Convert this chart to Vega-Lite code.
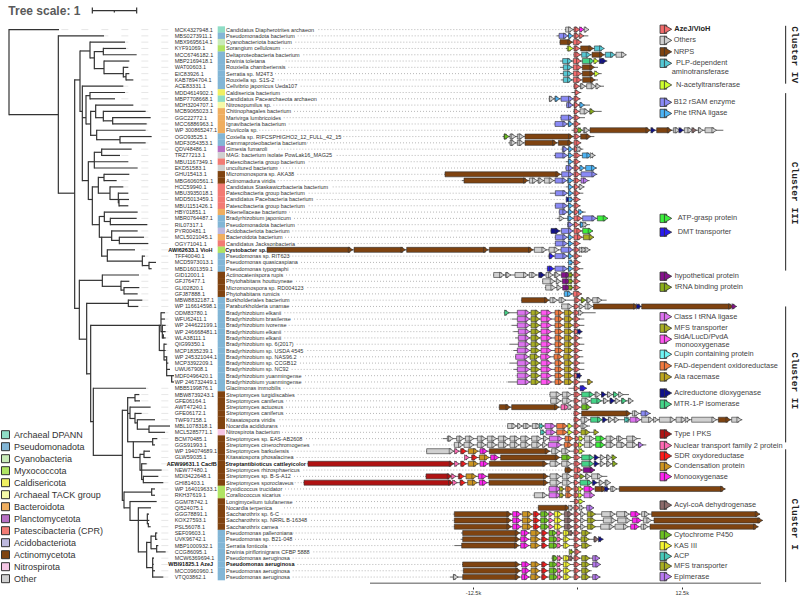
{"width":800,"height":597,"padding":0,"autosize":{"type":"none"},"background":"white","config":{"view":{"stroke":null}},
"datasets":{
"taxa":[
{"r":0,"id":"MCK4327948.1","org":"Candidatus Diapherotrites archaeon","tax":"Archaeal DPANN","n":27,"tip":177,"d":505},
{"r":1,"id":"MBS0273911.1","org":"Pseudomonadota bacterium","tax":"Pseudomonadota","n":175,"tip":312,"d":505},
{"r":2,"id":"MBX9695614.1","org":"Cyanobacteriota bacterium","tax":"Cyanobacteria","n":270,"tip":375,"d":505},
{"r":3,"id":"KYF91069.1","org":"Sorangium cellulosum","tax":"Myxococcota","n":310,"tip":378,"d":505},
{"r":4,"id":"MCC6746182.1","org":"Deltaproteobacteria bacterium","tax":"Pseudomonadota","n":310,"tip":410,"d":505},
{"r":5,"id":"MBP2169418.1","org":"Erwinia toletana","tax":"Pseudomonadota","n":312,"tip":388,"d":505},
{"r":6,"id":"WAT00603.1","org":"Rouxiella chamberiensis","tax":"Pseudomonadota","n":370,"tip":385,"d":505},
{"r":7,"id":"EIC83926.1","org":"Serratia sp. M24T3","tax":"Pseudomonadota","n":378,"tip":388,"d":505},
{"r":8,"id":"KAB7894704.1","org":"Rouxiella sp. S1S-2","tax":"Pseudomonadota","n":378,"tip":400,"d":505},
{"r":9,"id":"ACE83331.1","org":"Cellvibrio japonicus Ueda107","tax":"Pseudomonadota","n":247,"tip":370,"d":505},
{"r":10,"id":"MDD4614902.1","org":"Caldisericia bacterium","tax":"Caldisericota","n":270,"tip":375,"d":505},
{"r":11,"id":"MBP7708668.1","org":"Candidatus Pacearchaeota archaeon","tax":"Archaeal DPANN","n":270,"tip":345,"d":505},
{"r":12,"id":"MDH3204707.1","org":"Nitrosopumilus sp.","tax":"Archaeal TACK group","n":287,"tip":400,"d":505},
{"r":13,"id":"MCB9065023.1","org":"Chitinophagales bacterium","tax":"Bacteroidota","n":310,"tip":437,"d":505},
{"r":14,"id":"GGC22772.1","org":"Marivirga lumbricoides","tax":"Bacteroidota","n":338,"tip":452,"d":505},
{"r":15,"id":"MCC6886963.1","org":"Ignavibacteria bacterium","tax":"Bacteroidota","n":338,"tip":440,"d":505},
{"r":16,"id":"WP 300865247.1","org":"Fluviicola sp.","tax":"Bacteroidota","n":290,"tip":437,"d":505},
{"r":17,"id":"OGO93525.1","org":"Coxiella sp. RIFCSPHIGHO2_12_FULL_42_15","tax":"Pseudomonadota","n":360,"tip":455,"d":505},
{"r":18,"id":"MDF3054353.1","org":"Gammaproteobacteria bacterium","tax":"Pseudomonadota","n":360,"tip":437,"d":505},
{"r":19,"id":"QDV48486.1","org":"Gimesia fumaroli","tax":"Planctomycetota","n":305,"tip":395,"d":505},
{"r":20,"id":"TRZ77213.1","org":"MAG: bacterium isolate PowLak16_MAG25","tax":"Other","n":305,"tip":360,"d":505},
{"r":21,"id":"MBU1167349.1","org":"Patescibacteria group bacterium","tax":"Patescibacteria (CPR)","n":283,"tip":385,"d":505},
{"r":22,"id":"EKD51583.1","org":"uncultured bacterium","tax":"Other","n":283,"tip":413,"d":505},
{"r":23,"id":"GHU15413.1","org":"Micromonospora sp. AKA38","tax":"Actinomycetota","n":312,"tip":388,"d":505},
{"r":24,"id":"MBG6060561.1","org":"Actinomadura viridis","tax":"Actinomycetota","n":312,"tip":350,"d":505},
{"r":25,"id":"HCC59940.1","org":"Candidatus Staskawiczbacteria bacterium","tax":"Patescibacteria (CPR)","n":330,"tip":370,"d":505},
{"r":26,"id":"MBU3935018.1","org":"Patescibacteria group bacterium","tax":"Patescibacteria (CPR)","n":355,"tip":385,"d":505},
{"r":27,"id":"MDD5013459.1","org":"Candidatus Pacebacteria bacterium","tax":"Patescibacteria (CPR)","n":357,"tip":387,"d":505},
{"r":28,"id":"MBU1151426.1","org":"Patescibacteria group bacterium","tax":"Patescibacteria (CPR)","n":357,"tip":385,"d":505},
{"r":29,"id":"HBY01851.1","org":"Rikenellaceae bacterium","tax":"Bacteroidota","n":313,"tip":413,"d":505},
{"r":30,"id":"MBR0764487.1","org":"Bradyrhizobium japonicum","tax":"Pseudomonadota","n":331,"tip":410,"d":505},
{"r":31,"id":"RIL07317.1","org":"Pseudomonadota bacterium","tax":"Pseudomonadota","n":331,"tip":442,"d":505},
{"r":32,"id":"PYR00481.1","org":"Acidobacteriota bacterium","tax":"Acidobacteriota","n":335,"tip":413,"d":505},
{"r":33,"id":"MCL5021045.1","org":"Bacteroidota bacterium","tax":"Bacteroidota","n":358,"tip":432,"d":505},
{"r":34,"id":"OGY71041.1","org":"Candidatus Jacksonbacteria","tax":"Patescibacteria (CPR)","n":358,"tip":445,"d":505},
{"r":35,"id":"","org":"","tax":"Myxococcota","n":322,"tip":405,"d":505},
{"r":36,"id":"TFF40040.1","org":"Pseudomonas sp. RIT623","tax":"Pseudomonadota","n":427,"tip":435,"d":505},
{"r":37,"id":"MCD5973013.1","org":"Pseudomonas quasicaspiana","tax":"Pseudomonadota","n":447,"tip":468,"d":505},
{"r":38,"id":"MBD1601359.1","org":"Pseudomonas typographi","tax":"Pseudomonadota","n":447,"tip":455,"d":505},
{"r":39,"id":"GID12001.1","org":"Actinocatenispora rupis","tax":"Actinomycetota","n":307,"tip":417,"d":505},
{"r":40,"id":"GFJ76477.1","org":"Phytohabitans houttuyneae","tax":"Actinomycetota","n":363,"tip":388,"d":505},
{"r":41,"id":"GLI02820.1","org":"Micromonospora sp. RD004123","tax":"Actinomycetota","n":372,"tip":418,"d":505},
{"r":42,"id":"GFJ87888.1","org":"Phytohabitans rumicis","tax":"Actinomycetota","n":372,"tip":413,"d":505},
{"r":43,"id":"MBW8832187.1","org":"Burkholderiales bacterium","tax":"Pseudomonadota","n":385,"tip":427,"d":505},
{"r":44,"id":"WP 116614598.1","org":"Paraburkholderia unamae","tax":"Pseudomonadota","n":385,"tip":415,"d":505},
{"r":45,"id":"ODM83780.1","org":"Bradyrhizobium elkanii","tax":"Pseudomonadota","n":483,"tip":495,"d":505},
{"r":46,"id":"WFU62411.1","org":"Bradyrhizobium brasilense","tax":"Pseudomonadota","n":483,"tip":495,"d":505},
{"r":47,"id":"WP 244622199.1","org":"Bradyrhizobium ivorense","tax":"Pseudomonadota","n":487,"tip":497,"d":505},
{"r":48,"id":"WP 246668481.1","org":"Bradyrhizobium elkanii","tax":"Pseudomonadota","n":487,"tip":497,"d":505},
{"r":49,"id":"WLA38111.1","org":"Bradyrhizobium elkanii","tax":"Pseudomonadota","n":490,"tip":497,"d":505},
{"r":50,"id":"QIG99350.1","org":"Bradyrhizobium sp. 6(2017)","tax":"Pseudomonadota","n":492,"tip":500,"d":505},
{"r":51,"id":"MCP1835239.1","org":"Bradyrhizobium sp. USDA 4545","tax":"Pseudomonadota","n":492,"tip":497,"d":505},
{"r":52,"id":"WP 245321044.1","org":"Bradyrhizobium sp. NAS96.2","tax":"Pseudomonadota","n":492,"tip":500,"d":505},
{"r":53,"id":"MCP3392209.1","org":"Bradyrhizobium sp. CCGB12","tax":"Pseudomonadota","n":500,"tip":505,"d":505},
{"r":54,"id":"UWU67908.1","org":"Bradyrhizobium sp. NC92","tax":"Pseudomonadota","n":500,"tip":510,"d":510},
{"r":55,"id":"MDF0496420.1","org":"Bradyrhizobium yuanmingense","tax":"Pseudomonadota","n":515,"tip":522,"d":522},
{"r":56,"id":"WP 246732449.1","org":"Bradyrhizobium yuanmingense","tax":"Pseudomonadota","n":515,"tip":522,"d":522},
{"r":57,"id":"MBB5199876.1","org":"Glaciimonas immobilis","tax":"Pseudomonadota","n":280,"tip":438,"d":505},
{"r":58,"id":"MBW8739243.1","org":"Streptomyces turgidiscabies","tax":"Actinomycetota","n":405,"tip":418,"d":505},
{"r":59,"id":"GFE06164.1","org":"Streptomyces caniferus","tax":"Actinomycetota","n":405,"tip":420,"d":505},
{"r":60,"id":"AWT47240.1","org":"Streptomyces actuosus","tax":"Actinomycetota","n":390,"tip":452,"d":505},
{"r":61,"id":"GFE06172.1","org":"Streptomyces caniferus","tax":"Actinomycetota","n":405,"tip":425,"d":505},
{"r":62,"id":"TWF97158.1","org":"Kitasatospora viridis","tax":"Actinomycetota","n":412,"tip":465,"d":505},
{"r":63,"id":"MBL1078318.1","org":"Nocardia acididurans","tax":"Actinomycetota","n":447,"tip":510,"d":510},
{"r":64,"id":"MCL5285771.1","org":"Nitrospirota bacterium","tax":"Nitrospirota","n":447,"tip":495,"d":505},
{"r":65,"id":"BCM70485.1","org":"Streptomyces sp. EAS-AB2608","tax":"Actinomycetota","n":458,"tip":472,"d":505},
{"r":66,"id":"GGS91993.1","org":"Streptomyces cinerochromogenes","tax":"Actinomycetota","n":458,"tip":465,"d":505},
{"r":67,"id":"WP 194074689.1","org":"Streptomyces barkulensis","tax":"Actinomycetota","n":432,"tip":450,"d":505},
{"r":68,"id":"GLW59035.1","org":"Kitasatospora phosalacinea","tax":"Actinomycetota","n":432,"tip":452,"d":505},
{"r":69,"id":"","org":"","tax":"Actinomycetota","n":425,"tip":440,"d":505},
{"r":70,"id":"NEW77480.1","org":"Streptomyces rhizosphaericus","tax":"Actinomycetota","n":425,"tip":485,"d":505},
{"r":71,"id":"MDI3422648.1","org":"Streptomyces sp. B-S-A12","tax":"Actinomycetota","n":430,"tip":475,"d":505},
{"r":72,"id":"GHI81403.1","org":"Streptomyces sporoclaveus","tax":"Actinomycetota","n":430,"tip":490,"d":505},
{"r":73,"id":"WP 164019633.1","org":"Pyxidicoccus trucidator","tax":"Myxococcota","n":455,"tip":465,"d":505},
{"r":74,"id":"RKH37619.1","org":"Corallococcus sicarius","tax":"Myxococcota","n":455,"tip":465,"d":505},
{"r":75,"id":"GGM78742.1","org":"Longimycelium tulufanense","tax":"Actinomycetota","n":390,"tip":470,"d":505},
{"r":76,"id":"QI524075.1","org":"Nocardia terpenica","tax":"Actinomycetota","n":415,"tip":453,"d":505},
{"r":77,"id":"GGG78891.1","org":"Saccharothrix sp. 6-C","tax":"Actinomycetota","n":442,"tip":447,"d":505},
{"r":78,"id":"KOX27593.1","org":"Saccharothrix sp. NRRL B-16348","tax":"Actinomycetota","n":442,"tip":448,"d":505},
{"r":79,"id":"PSL56078.1","org":"Saccharothrix carnea","tax":"Actinomycetota","n":445,"tip":452,"d":505},
{"r":80,"id":"SEF09603.1","org":"Pseudomonas palleroniana","tax":"Pseudomonadota","n":467,"tip":472,"d":505},
{"r":81,"id":"UVK96742.1","org":"Pseudomonas sp. B21-048","tax":"Pseudomonadota","n":467,"tip":472,"d":505},
{"r":82,"id":"MBP1000932.1","org":"Serratia fonticola","tax":"Pseudomonadota","n":470,"tip":475,"d":505},
{"r":83,"id":"CCG86095.1","org":"Erwinia piriflorinigrans CFBP 5888","tax":"Pseudomonadota","n":470,"tip":497,"d":505},
{"r":84,"id":"MCW6369694.1","org":"Pseudomonas aeruginosa","tax":"Pseudomonadota","n":458,"tip":462,"d":505},
{"r":85,"id":"","org":"","tax":"Pseudomonadota","n":458,"tip":461,"d":505},
{"r":86,"id":"MCC0960960.1","org":"Pseudomonas aeruginosa","tax":"Pseudomonadota","n":458,"tip":465,"d":505},
{"r":87,"id":"VTQ03862.1","org":"Pseudomonas aeruginosa","tax":"Pseudomonadota","n":458,"tip":490,"d":505}
],
"bolds":[{"r":35,"id":"AWI62633.1 VioH","org":"Cystobacter sp.","ax":505,"ox":-1056},{"r":69,"id":"AEW99631.1 CacfB","org":"Streptantibioticus cattleyicolor","ax":500,"ox":-1056},{"r":85,"id":"WBI91825.1 AzeJ","org":"Pseudomonas aeruginosa","ax":505,"ox":-1054}],
"hseg":[
{"x":27,"x2":175,"r":13.5},{"x":175,"x2":224,"r":26},{"x":224,"x2":240,"r":8},{"x":240,"x2":270,"r":3.4},{"x":270,"x2":283,"r":4.5},{"x":283,"x2":310,"r":3.5},{"x":283,"x2":312,"r":6.2},{"x":312,"x2":370,"r":7},{"x":370,"x2":378,"r":7.5},{"x":240,"x2":247,"r":13},{"x":247,"x2":258,"r":14},{"x":258,"x2":270,"r":10.5},{"x":258,"x2":272,"r":15},{"x":272,"x2":287,"r":13},{"x":272,"x2":290,"r":16.8},{"x":287,"x2":310,"r":14},{"x":310,"x2":338,"r":14.5},{"x":290,"x2":360,"r":17.5},{"x":247,"x2":265,"r":24},{"x":265,"x2":283,"r":21},{"x":283,"x2":305,"r":19.5},{"x":265,"x2":277,"r":27},{"x":277,"x2":295,"r":25},{"x":295,"x2":312,"r":23.5},{"x":295,"x2":330,"r":26},{"x":330,"x2":355,"r":27},{"x":355,"x2":357,"r":27.5},{"x":277,"x2":298,"r":31},{"x":298,"x2":313,"r":29.7},{"x":313,"x2":331,"r":30.5},{"x":298,"x2":305,"r":33},{"x":305,"x2":335,"r":33},{"x":335,"x2":358,"r":33.5},{"x":305,"x2":322,"r":36},{"x":322,"x2":427,"r":36.8},{"x":427,"x2":447,"r":37.5},
{"x":224,"x2":238,"r":44.3},{"x":238,"x2":307,"r":39.85},{"x":307,"x2":363,"r":40.8},{"x":363,"x2":372,"r":41.4},{"x":238,"x2":260,"r":49.2},{"x":260,"x2":385,"r":43.5},{"x":260,"x2":272,"r":54.7},{"x":272,"x2":478,"r":47},{"x":478,"x2":483,"r":47},{"x":483,"x2":487,"r":48},{"x":487,"x2":490,"r":49},{"x":478,"x2":492,"r":51},{"x":492,"x2":500,"r":52.5},{"x":500,"x2":515,"r":55},
{"x":272,"x2":280,"r":62.3},{"x":280,"x2":367,"r":67.66},{"x":367,"x2":383,"r":60.5},{"x":383,"x2":405,"r":58.5},{"x":383,"x2":390,"r":61},{"x":390,"x2":405,"r":61.8},{"x":405,"x2":412,"r":62.5},{"x":412,"x2":447,"r":63.5},{"x":383,"x2":400,"r":65.5},{"x":400,"x2":458,"r":65.5},{"x":400,"x2":420,"r":68},{"x":420,"x2":432,"r":67.5},{"x":420,"x2":425,"r":70},{"x":425,"x2":430,"r":71.5},
{"x":367,"x2":372,"r":74.8},{"x":372,"x2":455,"r":73.5},{"x":372,"x2":390,"r":76},{"x":390,"x2":415,"r":78},{"x":415,"x2":442,"r":78},{"x":442,"x2":445,"r":78.5},{"x":415,"x2":440,"r":83},{"x":440,"x2":453,"r":81.5},{"x":453,"x2":467,"r":80.5},{"x":453,"x2":470,"r":82.5},{"x":440,"x2":458,"r":85.5},
{"x":277,"x2":410,"r":-3.02}
],
"vseg":[
{"g":1,"x":27,"r":0},{"g":1,"x":27,"r":13.5},{"g":2,"x":175,"r":1},{"g":2,"x":175,"r":26},{"g":3,"x":224,"r":8},{"g":3,"x":224,"r":44.3},{"g":4,"x":240,"r":3.4},{"g":4,"x":240,"r":13},{"g":5,"x":270,"r":2},{"g":5,"x":270,"r":4.5},{"g":6,"x":283,"r":3.5},{"g":6,"x":283,"r":6.2},{"g":7,"x":310,"r":3},{"g":7,"x":310,"r":4},{"g":8,"x":312,"r":5},{"g":8,"x":312,"r":7},{"g":9,"x":370,"r":6},{"g":9,"x":370,"r":7.5},{"g":10,"x":378,"r":7},{"g":10,"x":378,"r":8},{"g":11,"x":247,"r":9},{"g":11,"x":247,"r":24},{"g":12,"x":258,"r":10.5},{"g":12,"x":258,"r":15},{"g":13,"x":270,"r":10},{"g":13,"x":270,"r":11},{"g":14,"x":272,"r":13},{"g":14,"x":272,"r":16.8},{"g":15,"x":287,"r":12},{"g":15,"x":287,"r":14},{"g":16,"x":310,"r":13},{"g":16,"x":310,"r":14.5},{"g":17,"x":338,"r":14},{"g":17,"x":338,"r":15},{"g":18,"x":290,"r":16},{"g":18,"x":290,"r":17.5},{"g":19,"x":360,"r":17},{"g":19,"x":360,"r":18},{"g":20,"x":265,"r":21},{"g":20,"x":265,"r":27},{"g":21,"x":283,"r":19.5},{"g":21,"x":283,"r":22},{"g":22,"x":305,"r":19},{"g":22,"x":305,"r":20},{"g":23,"x":277,"r":25},{"g":23,"x":277,"r":31},{"g":24,"x":295,"r":23.5},{"g":24,"x":295,"r":26},{"g":25,"x":312,"r":23},{"g":25,"x":312,"r":24},{"g":26,"x":330,"r":25},{"g":26,"x":330,"r":27},{"g":27,"x":355,"r":26},{"g":27,"x":355,"r":27.5},{"g":28,"x":357,"r":27},{"g":28,"x":357,"r":28},{"g":29,"x":298,"r":29.7},{"g":29,"x":298,"r":33},{"g":30,"x":313,"r":29},{"g":30,"x":313,"r":30.5},{"g":31,"x":331,"r":30},{"g":31,"x":331,"r":31},{"g":32,"x":305,"r":33},{"g":32,"x":305,"r":36},{"g":33,"x":335,"r":32},{"g":33,"x":335,"r":33.5},{"g":34,"x":358,"r":33},{"g":34,"x":358,"r":34},{"g":35,"x":322,"r":35},{"g":35,"x":322,"r":36.8},{"g":36,"x":427,"r":36},{"g":36,"x":427,"r":37.5},{"g":37,"x":447,"r":37},{"g":37,"x":447,"r":38},
{"g":38,"x":238,"r":39.85},{"g":38,"x":238,"r":49.2},{"g":39,"x":307,"r":39},{"g":39,"x":307,"r":40.8},{"g":40,"x":363,"r":40},{"g":40,"x":363,"r":41.4},{"g":41,"x":372,"r":41},{"g":41,"x":372,"r":42},{"g":42,"x":260,"r":43.5},{"g":42,"x":260,"r":54.7},{"g":43,"x":385,"r":43},{"g":43,"x":385,"r":44},{"g":44,"x":272,"r":47},{"g":44,"x":272,"r":62.3},{"g":45,"x":478,"r":47},{"g":45,"x":478,"r":51},{"g":46,"x":483,"r":45},{"g":46,"x":483,"r":48},{"g":47,"x":487,"r":47},{"g":47,"x":487,"r":49},{"g":48,"x":490,"r":48.5},{"g":48,"x":490,"r":49},{"g":49,"x":492,"r":50},{"g":49,"x":492,"r":52.5},{"g":50,"x":500,"r":52},{"g":50,"x":500,"r":55},{"g":51,"x":515,"r":55},{"g":51,"x":515,"r":56},
{"g":52,"x":280,"r":57},{"g":52,"x":280,"r":67.66},{"g":53,"x":367,"r":60.5},{"g":53,"x":367,"r":74.8},{"g":54,"x":383,"r":58.5},{"g":54,"x":383,"r":65.5},{"g":55,"x":405,"r":58},{"g":55,"x":405,"r":59},{"g":56,"x":390,"r":60},{"g":56,"x":390,"r":61.8},{"g":57,"x":405,"r":61},{"g":57,"x":405,"r":62.5},{"g":58,"x":412,"r":62},{"g":58,"x":412,"r":63.5},{"g":59,"x":447,"r":63},{"g":59,"x":447,"r":64},{"g":60,"x":400,"r":65.5},{"g":60,"x":400,"r":68},{"g":61,"x":458,"r":65},{"g":61,"x":458,"r":66},{"g":62,"x":420,"r":67.5},{"g":62,"x":420,"r":70},{"g":63,"x":432,"r":67},{"g":63,"x":432,"r":68},{"g":64,"x":425,"r":69},{"g":64,"x":425,"r":71.5},{"g":65,"x":430,"r":71},{"g":65,"x":430,"r":72},
{"g":66,"x":372,"r":73.5},{"g":66,"x":372,"r":76},{"g":67,"x":455,"r":73},{"g":67,"x":455,"r":74},{"g":68,"x":390,"r":75},{"g":68,"x":390,"r":78},{"g":69,"x":415,"r":76},{"g":69,"x":415,"r":83},{"g":70,"x":442,"r":77},{"g":70,"x":442,"r":78.5},{"g":71,"x":445,"r":78.5},{"g":71,"x":445,"r":79},{"g":72,"x":440,"r":81.5},{"g":72,"x":440,"r":85.5},{"g":73,"x":453,"r":80.5},{"g":73,"x":453,"r":82.5},{"g":74,"x":467,"r":80},{"g":74,"x":467,"r":81},{"g":75,"x":470,"r":82},{"g":75,"x":470,"r":83},{"g":76,"x":458,"r":84},{"g":76,"x":458,"r":87},
{"g":77,"x":277,"r":-3.4},{"g":77,"x":277,"r":-2.64},{"g":78,"x":410,"r":-3.4},{"g":78,"x":410,"r":-2.64},{"g":79,"x":343,"r":-3.02},{"g":79,"x":343,"r":-2.8}
],
"bb":[
{"r":0,"le":-777,"a":-37,"b":35},{"r":1,"le":-839,"a":-62,"b":33},{"r":2,"le":-846,"a":-54,"b":14},{"r":3,"le":-884,"a":-34,"b":81},{"r":4,"le":-822,"a":-12,"b":147},{"r":5,"le":-875,"a":-52,"b":90},{"r":6,"le":-867,"a":-52,"b":62},{"r":7,"le":-907,"a":-52,"b":73},{"r":8,"le":-899,"a":-49,"b":62},{"r":9,"le":-830,"a":-12,"b":80},{"r":10,"le":-884,"a":-17,"b":12},{"r":11,"le":-769,"a":-86,"b":10},{"r":12,"le":-912,"a":-34,"b":38},{"r":13,"le":-850,"a":-12,"b":73},{"r":14,"le":-881,"a":-51,"b":23},{"r":15,"le":-866,"a":-69,"b":10},{"r":16,"le":-954,"a":-17,"b":438},{"r":17,"le":-720,"a":-224,"b":51},{"r":18,"le":-829,"a":-207,"b":12},{"r":19,"le":-897,"a":-47,"b":18},{"r":20,"le":-722,"a":-70,"b":55},{"r":21,"le":-806,"a":-35,"b":10},{"r":22,"le":-919,"a":-36,"b":59},{"r":23,"le":-840,"a":-399,"b":60},{"r":24,"le":-899,"a":-346,"b":37},{"r":25,"le":-734,"a":-35,"b":22},{"r":26,"le":-806,"a":-82,"b":18},{"r":27,"le":-782,"a":-30,"b":10},{"r":28,"le":-806,"a":-68,"b":10},{"r":29,"le":-892,"a":-56,"b":25},{"r":30,"le":-850,"a":-62,"b":92},{"r":31,"le":-839,"a":-31,"b":38},{"r":32,"le":-855,"a":-81,"b":47},{"r":33,"le":-877,"a":-68,"b":50},{"r":34,"le":-839,"a":-68,"b":10},{"r":35,"le":-931,"a":-931,"b":40},{"r":36,"le":-882,"a":-87,"b":14},{"r":37,"le":-829,"a":-30,"b":10},{"r":38,"le":-854,"a":-92,"b":18},{"r":39,"le":-874,"a":-253,"b":10},{"r":40,"le":-844,"a":-106,"b":10},{"r":41,"le":-810,"a":-97,"b":10},{"r":42,"le":-886,"a":-41,"b":14},{"r":43,"le":-854,"a":-169,"b":88},{"r":44,"le":-856,"a":-49,"b":478},{"r":45,"le":-879,"a":-218,"b":55},{"r":46,"le":-850,"a":-197,"b":21},{"r":47,"le":-866,"a":-197,"b":21},{"r":48,"le":-879,"a":-192,"b":15},{"r":49,"le":-879,"a":-187,"b":15},{"r":50,"le":-842,"a":-204,"b":21},{"r":51,"le":-810,"a":-192,"b":15},{"r":52,"le":-832,"a":-187,"b":18},{"r":53,"le":-832,"a":-204,"b":21},{"r":54,"le":-857,"a":-192,"b":21},{"r":55,"le":-817,"a":-182,"b":13},{"r":56,"le":-817,"a":-209,"b":46},{"r":57,"le":-882,"a":-27,"b":28},{"r":58,"le":-839,"a":-84,"b":155},{"r":59,"le":-874,"a":-82,"b":168},{"r":60,"le":-874,"a":-236,"b":43},{"r":61,"le":-874,"a":-12,"b":221},{"r":62,"le":-894,"a":-12,"b":495},{"r":63,"le":-892,"a":-211,"b":38},{"r":64,"le":-886,"a":-104,"b":63},{"r":65,"le":-814,"a":-404,"b":190},{"r":66,"le":-792,"a":-371,"b":207},{"r":67,"le":-857,"a":-454,"b":22},{"r":68,"le":-842,"a":-334,"b":118},{"r":69,"le":-812,"a":-810,"b":120},{"r":70,"le":-822,"a":-39,"b":53},{"r":71,"le":-850,"a":-456,"b":90},{"r":72,"le":-848,"a":-822,"b":100},{"r":73,"le":-877,"a":-87,"b":444},{"r":74,"le":-882,"a":-131,"b":52},{"r":75,"le":-844,"a":-22,"b":23},{"r":76,"le":-880,"a":-119,"b":50},{"r":77,"le":-887,"a":-371,"b":548},{"r":78,"le":-799,"a":-371,"b":556},{"r":79,"le":-890,"a":-371,"b":543},{"r":80,"le":-872,"a":-349,"b":43},{"r":81,"le":-847,"a":-349,"b":78},{"r":82,"le":-924,"a":-369,"b":43},{"r":83,"le":-792,"a":-17,"b":12},{"r":84,"le":-854,"a":-77,"b":68},{"r":85,"le":-840,"a":-346,"b":70},{"r":86,"le":-854,"a":-344,"b":43},{"r":87,"le":-854,"a":-382,"b":70}
],
"genes":[
{"r":0,"s":-35,"e":-12,"t":"O"},{"r":0,"s":-10,"e":8,"t":"A"},{"r":0,"s":10,"e":21,"t":"V"},{"r":0,"s":23,"e":35,"t":"O"},
{"r":1,"s":-55,"e":-27,"t":"B"},{"r":1,"s":-25,"e":-12,"t":"F"},{"r":1,"s":-10,"e":8,"t":"A"},{"r":1,"s":10,"e":20,"t":"A"},
{"r":2,"s":-52,"e":-14,"t":"N"},{"r":2,"s":-12,"e":13,"t":"A"},
{"r":3,"s":-30,"e":-12,"t":"T"},{"r":3,"s":-10,"e":8,"t":"A"},{"r":3,"s":10,"e":49,"t":"N"},{"r":3,"s":51,"e":81,"t":"P"},
{"r":4,"s":-10,"e":10,"t":"A"},{"r":4,"s":13,"e":41,"t":"P"},{"r":4,"s":44,"e":81,"t":"N"},{"r":4,"s":84,"e":114,"t":"P"},{"r":4,"s":116,"e":147,"t":"O"},
{"r":5,"s":-44,"e":-15,"t":"P"},{"r":5,"s":-12,"e":12,"t":"A"},{"r":5,"s":15,"e":51,"t":"Y"},{"r":5,"s":53,"e":64,"t":"T"},{"r":5,"s":66,"e":88,"t":"I"},
{"r":6,"s":-42,"e":-15,"t":"P"},{"r":6,"s":-12,"e":13,"t":"A"},{"r":6,"s":15,"e":52,"t":"N"},
{"r":7,"s":-42,"e":-15,"t":"P"},{"r":7,"s":-12,"e":13,"t":"A"},{"r":7,"s":15,"e":52,"t":"N"},{"r":7,"s":55,"e":66,"t":"T"},
{"r":8,"s":-42,"e":-15,"t":"P"},{"r":8,"s":-12,"e":13,"t":"A"},{"r":8,"s":16,"e":54,"t":"N"},
{"r":9,"s":-10,"e":7,"t":"A"},{"r":9,"s":9,"e":25,"t":"O"},{"r":9,"s":28,"e":56,"t":"O"},{"r":9,"s":58,"e":70,"t":"O"},
{"r":10,"s":-7,"e":8,"t":"A"},
{"r":11,"s":-84,"e":-69,"t":"O"},{"r":11,"s":-67,"e":-52,"t":"F"},{"r":11,"s":-49,"e":-12,"t":"B"},{"r":11,"s":-10,"e":8,"t":"A"},
{"r":12,"s":-32,"e":-12,"t":"B"},{"r":12,"s":-10,"e":6,"t":"A"},{"r":12,"s":8,"e":22,"t":"F"},
{"r":13,"s":-10,"e":6,"t":"A"},{"r":13,"s":8,"e":35,"t":"O"},{"r":13,"s":38,"e":52,"t":"R"},
{"r":14,"s":-49,"e":-12,"t":"B"},{"r":14,"s":-10,"e":8,"t":"A"},
{"r":15,"s":-67,"e":-29,"t":"B"},{"r":15,"s":-27,"e":-12,"t":"F"},{"r":15,"s":-10,"e":8,"t":"A"},
{"r":16,"s":-10,"e":7,"t":"A"},{"r":16,"s":9,"e":16,"t":"J"},{"r":16,"s":18,"e":36,"t":"O"},{"r":16,"s":38,"e":220,"t":"N"},{"r":16,"s":223,"e":235,"t":"I"},{"r":16,"s":238,"e":284,"t":"N"},{"r":16,"s":288,"e":308,"t":"O"},{"r":16,"s":311,"e":319,"t":"I"},{"r":16,"s":321,"e":346,"t":"O"},{"r":16,"s":348,"e":358,"t":"Q"},{"r":16,"s":363,"e":378,"t":"O"},{"r":16,"s":383,"e":418,"t":"O"},
{"r":17,"s":-220,"e":-204,"t":"J"},{"r":17,"s":-202,"e":-184,"t":"O"},{"r":17,"s":-180,"e":-160,"t":"O"},{"r":17,"s":-157,"e":-12,"t":"N"},{"r":17,"s":-10,"e":8,"t":"A"},{"r":17,"s":10,"e":41,"t":"N"},
{"r":18,"s":-202,"e":-184,"t":"O"},{"r":18,"s":-180,"e":-160,"t":"O"},{"r":18,"s":-157,"e":-60,"t":"N"},{"r":18,"s":-57,"e":-14,"t":"N"},{"r":18,"s":-10,"e":11,"t":"A"},
{"r":19,"s":-45,"e":-28,"t":"B"},{"r":19,"s":-25,"e":-12,"t":"F"},{"r":19,"s":-10,"e":6,"t":"A"},{"r":19,"s":8,"e":13,"t":"O"},
{"r":20,"s":-66,"e":-29,"t":"B"},{"r":20,"s":-27,"e":-12,"t":"F"},{"r":20,"s":-10,"e":10,"t":"A"},{"r":20,"s":15,"e":43,"t":"F"},{"r":20,"s":46,"e":53,"t":"O"},
{"r":21,"s":-27,"e":-12,"t":"F"},{"r":21,"s":-10,"e":8,"t":"A"},
{"r":22,"s":-34,"e":-12,"t":"B"},{"r":22,"s":-10,"e":8,"t":"A"},{"r":22,"s":10,"e":22,"t":"F"},{"r":22,"s":25,"e":57,"t":"F"},
{"r":23,"s":-397,"e":-50,"t":"N"},{"r":23,"s":-47,"e":-12,"t":"B"},{"r":23,"s":-10,"e":9,"t":"A"},{"r":23,"s":11,"e":58,"t":"B"},
{"r":24,"s":-340,"e":-147,"t":"N"},{"r":24,"s":-144,"e":-120,"t":"O"},{"r":24,"s":-118,"e":-101,"t":"O"},{"r":24,"s":-99,"e":-70,"t":"O"},{"r":24,"s":-67,"e":-31,"t":"B"},{"r":24,"s":-29,"e":-12,"t":"F"},{"r":24,"s":-10,"e":9,"t":"A"},{"r":24,"s":11,"e":33,"t":"e"},
{"r":25,"s":-27,"e":-12,"t":"F"},{"r":25,"s":-10,"e":6,"t":"A"},{"r":25,"s":8,"e":20,"t":"O"},
{"r":26,"s":-66,"e":-29,"t":"B"},{"r":26,"s":-26,"e":-12,"t":"F"},{"r":26,"s":-10,"e":8,"t":"A"},
{"r":27,"s":-27,"e":-19,"t":"I"},{"r":27,"s":-18,"e":-12,"t":"F"},{"r":27,"s":-10,"e":8,"t":"A"},
{"r":28,"s":-66,"e":-29,"t":"B"},{"r":28,"s":-27,"e":-12,"t":"F"},{"r":28,"s":-10,"e":8,"t":"A"},
{"r":29,"s":-54,"e":-29,"t":"B"},{"r":29,"s":-27,"e":-12,"t":"F"},{"r":29,"s":-10,"e":6,"t":"A"},{"r":29,"s":8,"e":18,"t":"F"},
{"r":30,"s":-50,"e":-40,"t":"O"},{"r":30,"s":-29,"e":-12,"t":"F"},{"r":30,"s":-10,"e":14,"t":"A"},{"r":30,"s":16,"e":58,"t":"B"},{"r":30,"s":60,"e":92,"t":"G"},
{"r":31,"s":-29,"e":-12,"t":"B"},{"r":31,"s":-10,"e":6,"t":"A"},{"r":31,"s":8,"e":24,"t":"F"},{"r":31,"s":25,"e":31,"t":"O"},
{"r":32,"s":-79,"e":-52,"t":"I"},{"r":32,"s":-48,"e":-12,"t":"B"},{"r":32,"s":-10,"e":13,"t":"A"},{"r":32,"s":16,"e":47,"t":"G"},
{"r":33,"s":-66,"e":-29,"t":"B"},{"r":33,"s":-27,"e":-12,"t":"F"},{"r":33,"s":-10,"e":15,"t":"A"},{"r":33,"s":18,"e":50,"t":"M"},
{"r":34,"s":-66,"e":-29,"t":"B"},{"r":34,"s":-27,"e":-12,"t":"F"},{"r":34,"s":-10,"e":8,"t":"A"},
{"r":35,"s":-931,"e":-673,"t":"N"},{"r":35,"s":-670,"e":-515,"t":"N"},{"r":35,"s":-512,"e":-267,"t":"N"},{"r":35,"s":-264,"e":-132,"t":"N"},{"r":35,"s":-129,"e":-92,"t":"O"},{"r":35,"s":-85,"e":-55,"t":"O"},{"r":35,"s":-49,"e":-12,"t":"B"},{"r":35,"s":-10,"e":8,"t":"A"},{"r":35,"s":13,"e":20,"t":"O"},{"r":35,"s":21,"e":28,"t":"O"},{"r":35,"s":29,"e":38,"t":"O"},
{"r":36,"s":-85,"e":-69,"t":"D"},{"r":36,"s":-67,"e":-29,"t":"B"},{"r":36,"s":-27,"e":-12,"t":"F"},{"r":36,"s":-10,"e":8,"t":"A"},
{"r":37,"s":-17,"e":-12,"t":"F"},{"r":37,"s":-10,"e":8,"t":"A"},
{"r":38,"s":-90,"e":-69,"t":"D"},{"r":38,"s":-67,"e":-29,"t":"B"},{"r":38,"s":-27,"e":-12,"t":"F"},{"r":38,"s":-10,"e":8,"t":"A"},
{"r":39,"s":-251,"e":-219,"t":"O"},{"r":39,"s":-215,"e":-199,"t":"O"},{"r":39,"s":-187,"e":-147,"t":"O"},{"r":39,"s":-144,"e":-122,"t":"O"},{"r":39,"s":-116,"e":-97,"t":"I"},{"r":39,"s":-94,"e":-72,"t":"O"},{"r":39,"s":-69,"e":-52,"t":"O"},{"r":39,"s":-48,"e":-20,"t":"H"},{"r":39,"s":-17,"e":-12,"t":"R"},{"r":39,"s":-10,"e":8,"t":"A"},
{"r":40,"s":-104,"e":-67,"t":"O"},{"r":40,"s":-62,"e":-49,"t":"O"},{"r":40,"s":-45,"e":-20,"t":"H"},{"r":40,"s":-17,"e":-12,"t":"R"},{"r":40,"s":-10,"e":8,"t":"A"},
{"r":41,"s":-95,"e":-65,"t":"O"},{"r":41,"s":-60,"e":-47,"t":"O"},{"r":41,"s":-44,"e":-20,"t":"H"},{"r":41,"s":-17,"e":-12,"t":"R"},{"r":41,"s":-10,"e":8,"t":"A"},
{"r":42,"s":-39,"e":-15,"t":"F"},{"r":42,"s":-12,"e":13,"t":"A"},
{"r":43,"s":-167,"e":-84,"t":"N"},{"r":43,"s":-82,"e":-59,"t":"O"},{"r":43,"s":-55,"e":-34,"t":"O"},{"r":43,"s":-9,"e":10,"t":"A"},{"r":43,"s":13,"e":26,"t":"R"},{"r":43,"s":28,"e":44,"t":"O"},{"r":43,"s":46,"e":74,"t":"O"},
{"r":44,"s":-47,"e":-14,"t":"O"},{"r":44,"s":-10,"e":7,"t":"A"},{"r":44,"s":10,"e":20,"t":"O"},{"r":44,"s":23,"e":46,"t":"O"},{"r":44,"s":48,"e":183,"t":"N"},{"r":44,"s":186,"e":192,"t":"I"},{"r":44,"s":193,"e":468,"t":"N"},{"r":44,"s":470,"e":478,"t":"H"},
{"r":45,"s":-216,"e":-204,"t":"Y"},{"r":45,"s":-180,"e":-142,"t":"C"},{"r":45,"s":-139,"e":-112,"t":"M"},{"r":45,"s":-109,"e":-77,"t":"S"},{"r":45,"s":-67,"e":-42,"t":"X"},{"r":45,"s":-39,"e":-12,"t":"L"},{"r":45,"s":-10,"e":8,"t":"A"},{"r":45,"s":10,"e":18,"t":"O"},
{"r":46,"s":-180,"e":-142,"t":"C"},{"r":46,"s":-139,"e":-112,"t":"M"},{"r":46,"s":-109,"e":-77,"t":"S"},{"r":46,"s":-67,"e":-42,"t":"X"},{"r":46,"s":-39,"e":-12,"t":"L"},{"r":46,"s":-10,"e":8,"t":"A"},
{"r":47,"s":-180,"e":-142,"t":"C"},{"r":47,"s":-139,"e":-112,"t":"M"},{"r":47,"s":-109,"e":-77,"t":"S"},{"r":47,"s":-67,"e":-42,"t":"X"},{"r":47,"s":-39,"e":-12,"t":"L"},{"r":47,"s":-10,"e":8,"t":"A"},
{"r":48,"s":-177,"e":-142,"t":"C"},{"r":48,"s":-139,"e":-112,"t":"M"},{"r":48,"s":-109,"e":-77,"t":"S"},{"r":48,"s":-67,"e":-42,"t":"X"},{"r":48,"s":-39,"e":-12,"t":"L"},{"r":48,"s":-10,"e":6,"t":"A"},{"r":48,"s":8,"e":15,"t":"I"},
{"r":49,"s":-177,"e":-142,"t":"C"},{"r":49,"s":-139,"e":-112,"t":"M"},{"r":49,"s":-109,"e":-77,"t":"S"},{"r":49,"s":-67,"e":-42,"t":"X"},{"r":49,"s":-39,"e":-12,"t":"L"},{"r":49,"s":-10,"e":8,"t":"A"},
{"r":50,"s":-177,"e":-142,"t":"C"},{"r":50,"s":-139,"e":-112,"t":"M"},{"r":50,"s":-109,"e":-77,"t":"S"},{"r":50,"s":-67,"e":-42,"t":"X"},{"r":50,"s":-39,"e":-12,"t":"L"},{"r":50,"s":-10,"e":8,"t":"A"},
{"r":51,"s":-180,"e":-142,"t":"C"},{"r":51,"s":-139,"e":-112,"t":"M"},{"r":51,"s":-109,"e":-77,"t":"S"},{"r":51,"s":-67,"e":-42,"t":"X"},{"r":51,"s":-39,"e":-12,"t":"L"},{"r":51,"s":-10,"e":8,"t":"A"},
{"r":52,"s":-185,"e":-145,"t":"C"},{"r":52,"s":-142,"e":-114,"t":"M"},{"r":52,"s":-110,"e":-80,"t":"S"},{"r":52,"s":-70,"e":-44,"t":"X"},{"r":52,"s":-41,"e":-13,"t":"L"},{"r":52,"s":-10,"e":8,"t":"A"},
{"r":53,"s":-180,"e":-142,"t":"C"},{"r":53,"s":-139,"e":-112,"t":"M"},{"r":53,"s":-109,"e":-77,"t":"S"},{"r":53,"s":-67,"e":-42,"t":"X"},{"r":53,"s":-39,"e":-12,"t":"L"},{"r":53,"s":-10,"e":8,"t":"A"},
{"r":54,"s":-180,"e":-142,"t":"C"},{"r":54,"s":-139,"e":-112,"t":"M"},{"r":54,"s":-109,"e":-77,"t":"S"},{"r":54,"s":-67,"e":-42,"t":"X"},{"r":54,"s":-39,"e":-12,"t":"L"},{"r":54,"s":-10,"e":8,"t":"A"},
{"r":55,"s":-180,"e":-142,"t":"C"},{"r":55,"s":-139,"e":-112,"t":"M"},{"r":55,"s":-109,"e":-77,"t":"S"},{"r":55,"s":-67,"e":-42,"t":"X"},{"r":55,"s":-39,"e":-12,"t":"L"},{"r":55,"s":-10,"e":6,"t":"A"},{"r":55,"s":8,"e":13,"t":"I"},
{"r":56,"s":-180,"e":-142,"t":"C"},{"r":56,"s":-139,"e":-112,"t":"M"},{"r":56,"s":-109,"e":-77,"t":"S"},{"r":56,"s":-67,"e":-42,"t":"X"},{"r":56,"s":-39,"e":-12,"t":"L"},{"r":56,"s":-10,"e":8,"t":"A"},{"r":56,"s":31,"e":46,"t":"L"},
{"r":57,"s":-10,"e":6,"t":"A"},{"r":57,"s":8,"e":28,"t":"D"},
{"r":58,"s":-82,"e":-49,"t":"O"},{"r":58,"s":-45,"e":-17,"t":"O"},{"r":58,"s":-10,"e":10,"t":"A"},{"r":58,"s":13,"e":50,"t":"Y"},{"r":58,"s":53,"e":70,"t":"O"},{"r":58,"s":73,"e":87,"t":"I"},{"r":58,"s":90,"e":105,"t":"O"},{"r":58,"s":108,"e":123,"t":"Y"},{"r":58,"s":126,"e":138,"t":"O"},
{"r":59,"s":-80,"e":-49,"t":"O"},{"r":59,"s":-45,"e":-17,"t":"O"},{"r":59,"s":-10,"e":8,"t":"A"},{"r":59,"s":13,"e":38,"t":"O"},{"r":59,"s":41,"e":73,"t":"Y"},{"r":59,"s":78,"e":93,"t":"O"},{"r":59,"s":98,"e":113,"t":"I"},{"r":59,"s":116,"e":128,"t":"O"},{"r":59,"s":133,"e":148,"t":"Y"},{"r":59,"s":153,"e":168,"t":"O"},
{"r":60,"s":-234,"e":-200,"t":"N"},{"r":60,"s":-197,"e":-54,"t":"N"},{"r":60,"s":-49,"e":-24,"t":"W"},{"r":60,"s":-20,"e":-14,"t":"O"},{"r":60,"s":-10,"e":10,"t":"A"},{"r":60,"s":13,"e":41,"t":"J"},
{"r":61,"s":-10,"e":8,"t":"A"},{"r":61,"s":13,"e":161,"t":"N"},{"r":61,"s":165,"e":186,"t":"O"},{"r":61,"s":191,"e":218,"t":"B"},
{"r":62,"s":-10,"e":8,"t":"A"},{"r":62,"s":11,"e":36,"t":"O"},{"r":62,"s":40,"e":75,"t":"Y"},{"r":62,"s":78,"e":90,"t":"I"},{"r":62,"s":93,"e":108,"t":"O"},{"r":62,"s":111,"e":125,"t":"O"},{"r":62,"s":153,"e":156,"t":"a"},{"r":62,"s":158,"e":190,"t":"C"},{"r":62,"s":193,"e":228,"t":"O"},{"r":62,"s":233,"e":243,"t":"O"},{"r":62,"s":246,"e":293,"t":"O"},{"r":62,"s":296,"e":326,"t":"O"},{"r":62,"s":331,"e":338,"t":"O"},{"r":62,"s":343,"e":418,"t":"O"},{"r":62,"s":423,"e":460,"t":"N"},{"r":62,"s":463,"e":493,"t":"O"},
{"r":63,"s":-209,"e":-182,"t":"O"},{"r":63,"s":-177,"e":-165,"t":"O"},{"r":63,"s":-162,"e":-140,"t":"O"},{"r":63,"s":-135,"e":-110,"t":"O"},{"r":63,"s":-107,"e":-100,"t":"a"},{"r":63,"s":-97,"e":-65,"t":"C"},{"r":63,"s":-62,"e":-29,"t":"X"},{"r":63,"s":-25,"e":-14,"t":"T"},{"r":63,"s":-10,"e":8,"t":"A"},{"r":63,"s":11,"e":31,"t":"O"},
{"r":64,"s":-102,"e":-96,"t":"a"},{"r":64,"s":-94,"e":-65,"t":"C"},{"r":64,"s":-62,"e":-29,"t":"X"},{"r":64,"s":-27,"e":-14,"t":"T"},{"r":64,"s":-10,"e":8,"t":"A"},{"r":64,"s":11,"e":38,"t":"M"},{"r":64,"s":53,"e":64,"t":"M"},
{"r":65,"s":-390,"e":-372,"t":"O"},{"r":65,"s":-362,"e":-340,"t":"O"},{"r":65,"s":-336,"e":-310,"t":"O"},{"r":65,"s":-300,"e":-274,"t":"O"},{"r":65,"s":-270,"e":-242,"t":"O"},{"r":65,"s":-237,"e":-207,"t":"O"},{"r":65,"s":-202,"e":-174,"t":"O"},{"r":65,"s":-170,"e":-142,"t":"O"},{"r":65,"s":-137,"e":-107,"t":"O"},{"r":65,"s":-102,"e":-87,"t":"O"},{"r":65,"s":-84,"e":-44,"t":"C"},{"r":65,"s":-37,"e":-12,"t":"X"},{"r":65,"s":-7,"e":8,"t":"A"},{"r":65,"s":13,"e":19,"t":"T"},{"r":65,"s":21,"e":51,"t":"O"},{"r":65,"s":55,"e":83,"t":"G"},{"r":65,"s":86,"e":113,"t":"O"},{"r":65,"s":118,"e":138,"t":"O"},{"r":65,"s":148,"e":180,"t":"O"},
{"r":66,"s":-369,"e":-342,"t":"O"},{"r":66,"s":-340,"e":-310,"t":"O"},{"r":66,"s":-300,"e":-274,"t":"O"},{"r":66,"s":-270,"e":-242,"t":"O"},{"r":66,"s":-237,"e":-207,"t":"O"},{"r":66,"s":-202,"e":-174,"t":"O"},{"r":66,"s":-170,"e":-142,"t":"O"},{"r":66,"s":-137,"e":-107,"t":"O"},{"r":66,"s":-102,"e":-90,"t":"O"},{"r":66,"s":-87,"e":-47,"t":"C"},{"r":66,"s":-39,"e":-14,"t":"X"},{"r":66,"s":-10,"e":8,"t":"A"},{"r":66,"s":10,"e":18,"t":"T"},{"r":66,"s":21,"e":51,"t":"O"},{"r":66,"s":55,"e":83,"t":"G"},{"r":66,"s":86,"e":113,"t":"O"},{"r":66,"s":118,"e":146,"t":"O"},{"r":66,"s":148,"e":180,"t":"O"},{"r":66,"s":183,"e":198,"t":"e"},
{"r":67,"s":-452,"e":-370,"t":"O"},{"r":67,"s":-365,"e":-354,"t":"W"},{"r":67,"s":-350,"e":-332,"t":"E"},{"r":67,"s":-327,"e":-297,"t":"Z"},{"r":67,"s":-292,"e":-269,"t":"V"},{"r":67,"s":-264,"e":-82,"t":"N"},{"r":67,"s":-77,"e":-52,"t":"O"},{"r":67,"s":-47,"e":-22,"t":"O"},{"r":67,"s":-10,"e":8,"t":"A"},{"r":67,"s":13,"e":19,"t":"T"},
{"r":68,"s":-332,"e":-324,"t":"W"},{"r":68,"s":-317,"e":-299,"t":"E"},{"r":68,"s":-294,"e":-264,"t":"Z"},{"r":68,"s":-260,"e":-235,"t":"V"},{"r":68,"s":-230,"e":-52,"t":"N"},{"r":68,"s":-47,"e":-17,"t":"J"},{"r":68,"s":-10,"e":10,"t":"A"},{"r":68,"s":13,"e":50,"t":"Y"},{"r":68,"s":53,"e":65,"t":"I"},{"r":68,"s":70,"e":83,"t":"O"},{"r":68,"s":88,"e":103,"t":"O"},{"r":68,"s":106,"e":118,"t":"R"},
{"r":69,"s":-808,"e":-370,"t":"K"},{"r":69,"s":-365,"e":-354,"t":"W"},{"r":69,"s":-350,"e":-332,"t":"E"},{"r":69,"s":-327,"e":-297,"t":"Z"},{"r":69,"s":-292,"e":-267,"t":"V"},{"r":69,"s":-264,"e":-89,"t":"N"},{"r":69,"s":-82,"e":-52,"t":"O"},{"r":69,"s":-47,"e":-17,"t":"O"},{"r":69,"s":-10,"e":10,"t":"A"},{"r":69,"s":13,"e":50,"t":"Y"},{"r":69,"s":53,"e":65,"t":"I"},{"r":69,"s":70,"e":83,"t":"O"},{"r":69,"s":88,"e":103,"t":"O"},{"r":69,"s":108,"e":120,"t":"R"},
{"r":70,"s":-37,"e":-14,"t":"N"},{"r":70,"s":-10,"e":15,"t":"A"},{"r":70,"s":18,"e":53,"t":"H"},
{"r":71,"s":-454,"e":-376,"t":"K"},{"r":71,"s":-374,"e":-364,"t":"W"},{"r":71,"s":-357,"e":-339,"t":"E"},{"r":71,"s":-334,"e":-302,"t":"Z"},{"r":71,"s":-297,"e":-272,"t":"V"},{"r":71,"s":-267,"e":-87,"t":"N"},{"r":71,"s":-82,"e":-49,"t":"O"},{"r":71,"s":-45,"e":-17,"t":"O"},{"r":71,"s":-10,"e":10,"t":"A"},{"r":71,"s":13,"e":22,"t":"R"},{"r":71,"s":25,"e":40,"t":"O"},{"r":71,"s":43,"e":75,"t":"O"},
{"r":72,"s":-820,"e":-372,"t":"K"},{"r":72,"s":-369,"e":-360,"t":"W"},{"r":72,"s":-352,"e":-335,"t":"E"},{"r":72,"s":-329,"e":-300,"t":"Z"},{"r":72,"s":-294,"e":-270,"t":"V"},{"r":72,"s":-265,"e":-87,"t":"N"},{"r":72,"s":-82,"e":-49,"t":"O"},{"r":72,"s":-45,"e":-17,"t":"O"},{"r":72,"s":-10,"e":6,"t":"A"},{"r":72,"s":8,"e":45,"t":"Y"},{"r":72,"s":48,"e":60,"t":"I"},{"r":72,"s":66,"e":80,"t":"O"},{"r":72,"s":83,"e":100,"t":"O"},
{"r":73,"s":-85,"e":-49,"t":"C"},{"r":73,"s":-45,"e":-39,"t":"M"},{"r":73,"s":-35,"e":-14,"t":"X"},{"r":73,"s":-10,"e":8,"t":"A"},{"r":73,"s":10,"e":17,"t":"T"},{"r":73,"s":20,"e":50,"t":"V"},{"r":73,"s":53,"e":87,"t":"N"},{"r":73,"s":90,"e":96,"t":"I"},{"r":73,"s":100,"e":119,"t":"O"},{"r":73,"s":126,"e":444,"t":"N"},
{"r":74,"s":-129,"e":-90,"t":"O"},{"r":74,"s":-85,"e":-49,"t":"C"},{"r":74,"s":-45,"e":-39,"t":"M"},{"r":74,"s":-35,"e":-14,"t":"X"},{"r":74,"s":-10,"e":8,"t":"A"},{"r":74,"s":10,"e":17,"t":"T"},{"r":74,"s":20,"e":52,"t":"C"},
{"r":75,"s":-9,"e":8,"t":"A"},{"r":75,"s":11,"e":19,"t":"T"},
{"r":76,"s":-117,"e":-22,"t":"N"},{"r":76,"s":-17,"e":-12,"t":"O"},{"r":76,"s":-10,"e":8,"t":"A"},{"r":76,"s":13,"e":20,"t":"O"},{"r":76,"s":28,"e":50,"t":"e"},
{"r":77,"s":-369,"e":-197,"t":"N"},{"r":77,"s":-194,"e":-168,"t":"V"},{"r":77,"s":-165,"e":-135,"t":"Z"},{"r":77,"s":-132,"e":-112,"t":"E"},{"r":77,"s":-110,"e":-84,"t":"J"},{"r":77,"s":-80,"e":-71,"t":"W"},{"r":77,"s":-69,"e":-45,"t":"3"},{"r":77,"s":-39,"e":-14,"t":"Q"},{"r":77,"s":-10,"e":8,"t":"A"},{"r":77,"s":13,"e":24,"t":"O"},{"r":77,"s":30,"e":55,"t":"M"},{"r":77,"s":73,"e":113,"t":"O"},{"r":77,"s":118,"e":156,"t":"O"},{"r":77,"s":160,"e":188,"t":"V"},{"r":77,"s":193,"e":216,"t":"O"},{"r":77,"s":223,"e":548,"t":"N"},
{"r":78,"s":-369,"e":-197,"t":"N"},{"r":78,"s":-194,"e":-168,"t":"V"},{"r":78,"s":-165,"e":-135,"t":"Z"},{"r":78,"s":-132,"e":-112,"t":"E"},{"r":78,"s":-110,"e":-84,"t":"J"},{"r":78,"s":-80,"e":-71,"t":"W"},{"r":78,"s":-69,"e":-45,"t":"3"},{"r":78,"s":-39,"e":-14,"t":"Q"},{"r":78,"s":-10,"e":8,"t":"A"},{"r":78,"s":13,"e":24,"t":"O"},{"r":78,"s":30,"e":55,"t":"M"},{"r":78,"s":78,"e":116,"t":"O"},{"r":78,"s":121,"e":160,"t":"O"},{"r":78,"s":165,"e":193,"t":"V"},{"r":78,"s":198,"e":223,"t":"O"},{"r":78,"s":230,"e":556,"t":"N"},
{"r":79,"s":-369,"e":-197,"t":"N"},{"r":79,"s":-194,"e":-168,"t":"V"},{"r":79,"s":-165,"e":-135,"t":"Z"},{"r":79,"s":-132,"e":-112,"t":"E"},{"r":79,"s":-110,"e":-84,"t":"J"},{"r":79,"s":-80,"e":-71,"t":"W"},{"r":79,"s":-69,"e":-45,"t":"3"},{"r":79,"s":-39,"e":-14,"t":"Q"},{"r":79,"s":-10,"e":8,"t":"A"},{"r":79,"s":13,"e":24,"t":"O"},{"r":79,"s":30,"e":55,"t":"M"},{"r":79,"s":70,"e":110,"t":"O"},{"r":79,"s":113,"e":153,"t":"O"},{"r":79,"s":160,"e":186,"t":"V"},{"r":79,"s":191,"e":213,"t":"O"},{"r":79,"s":218,"e":543,"t":"N"},
{"r":80,"s":-344,"e":-172,"t":"N"},{"r":80,"s":-169,"e":-144,"t":"V"},{"r":80,"s":-140,"e":-110,"t":"Z"},{"r":80,"s":-107,"e":-89,"t":"E"},{"r":80,"s":-85,"e":-60,"t":"J"},{"r":80,"s":-54,"e":-47,"t":"W"},{"r":80,"s":-42,"e":-20,"t":"3"},{"r":80,"s":-17,"e":-12,"t":"Q"},{"r":80,"s":-10,"e":8,"t":"A"},{"r":80,"s":13,"e":38,"t":"M"},
{"r":81,"s":-344,"e":-172,"t":"N"},{"r":81,"s":-170,"e":-145,"t":"V"},{"r":81,"s":-140,"e":-112,"t":"Z"},{"r":81,"s":-107,"e":-89,"t":"E"},{"r":81,"s":-85,"e":-57,"t":"J"},{"r":81,"s":-54,"e":-47,"t":"W"},{"r":81,"s":-42,"e":-22,"t":"3"},{"r":81,"s":-10,"e":8,"t":"A"},{"r":81,"s":11,"e":36,"t":"M"},{"r":81,"s":50,"e":65,"t":"Q"},{"r":81,"s":68,"e":78,"t":"I"},
{"r":82,"s":-347,"e":-174,"t":"N"},{"r":82,"s":-170,"e":-145,"t":"V"},{"r":82,"s":-140,"e":-112,"t":"Z"},{"r":82,"s":-107,"e":-89,"t":"E"},{"r":82,"s":-85,"e":-57,"t":"J"},{"r":82,"s":-54,"e":-47,"t":"W"},{"r":82,"s":-42,"e":-22,"t":"3"},{"r":82,"s":-10,"e":8,"t":"A"},{"r":82,"s":13,"e":38,"t":"M"},
{"r":83,"s":-17,"e":-10,"t":"R"},{"r":83,"s":-8,"e":10,"t":"A"},
{"r":84,"s":-75,"e":-57,"t":"J"},{"r":84,"s":-52,"e":-46,"t":"W"},{"r":84,"s":-42,"e":-20,"t":"3"},{"r":84,"s":-17,"e":-12,"t":"Q"},{"r":84,"s":-10,"e":8,"t":"A"},{"r":84,"s":13,"e":38,"t":"M"},{"r":84,"s":46,"e":68,"t":"e"},
{"r":85,"s":-344,"e":-172,"t":"N"},{"r":85,"s":-167,"e":-142,"t":"V"},{"r":85,"s":-139,"e":-112,"t":"Z"},{"r":85,"s":-107,"e":-89,"t":"E"},{"r":85,"s":-84,"e":-59,"t":"J"},{"r":85,"s":-54,"e":-47,"t":"W"},{"r":85,"s":-42,"e":-20,"t":"3"},{"r":85,"s":-10,"e":8,"t":"A"},{"r":85,"s":13,"e":38,"t":"M"},{"r":85,"s":46,"e":70,"t":"e"},
{"r":86,"s":-342,"e":-170,"t":"N"},{"r":86,"s":-166,"e":-142,"t":"V"},{"r":86,"s":-139,"e":-112,"t":"Z"},{"r":86,"s":-107,"e":-89,"t":"E"},{"r":86,"s":-84,"e":-57,"t":"J"},{"r":86,"s":-52,"e":-46,"t":"W"},{"r":86,"s":-42,"e":-20,"t":"3"},{"r":86,"s":-10,"e":8,"t":"A"},{"r":86,"s":13,"e":38,"t":"M"},
{"r":87,"s":-372,"e":-357,"t":"O"},{"r":87,"s":-344,"e":-172,"t":"N"},{"r":87,"s":-167,"e":-144,"t":"V"},{"r":87,"s":-140,"e":-112,"t":"Z"},{"r":87,"s":-107,"e":-89,"t":"E"},{"r":87,"s":-84,"e":-57,"t":"J"},{"r":87,"s":-52,"e":-46,"t":"W"},{"r":87,"s":-42,"e":-20,"t":"3"},{"r":87,"s":-10,"e":8,"t":"A"},{"r":87,"s":13,"e":38,"t":"M"},{"r":87,"s":46,"e":68,"t":"e"}
],
"lkeys":[
{"r":-0.05,"t":"A","s":248,"e":283},{"r":1.72,"t":"O","s":248,"e":283},{"r":3.54,"t":"N","s":248,"e":283},{"r":5.36,"t":"P","s":248,"e":283},{"r":8.8,"t":"T","s":248,"e":283},{"r":11.56,"t":"B","s":248,"e":283},{"r":13.33,"t":"F","s":248,"e":283},{"r":30,"t":"G","s":248,"e":283},{"r":32.19,"t":"D","s":248,"e":283},{"r":39.2,"t":"H","s":248,"e":283},{"r":40.94,"t":"R","s":248,"e":283},{"r":45.63,"t":"C","s":248,"e":283},{"r":47.45,"t":"M","s":248,"e":283},{"r":49.2,"t":"S","s":248,"e":283},{"r":51.6,"t":"U","s":248,"e":283},{"r":53.44,"t":"X","s":248,"e":283},{"r":55.2,"t":"L","s":248,"e":283},{"r":57.76,"t":"I","s":248,"e":283},{"r":59.53,"t":"Y","s":248,"e":283},{"r":64.27,"t":"K","s":248,"e":283},{"r":66.1,"t":"W","s":248,"e":283},{"r":67.76,"t":"E","s":248,"e":283},{"r":69.43,"t":"Z","s":248,"e":283},{"r":71.04,"t":"V","s":248,"e":283},{"r":75.57,"t":"Q","s":248,"e":283},{"r":80.3,"t":"J","s":248,"e":283},{"r":82.03,"t":"3","s":248,"e":283},{"r":83.7,"t":"a","s":248,"e":283},{"r":85.26,"t":"M","s":248,"e":283},{"r":86.93,"t":"e","s":248,"e":283}
],
"ltext":[
{"r":1.72,"x":289,"l":"Others"},{"r":3.54,"x":289,"l":"NRPS"},{"r":5.26,"x":296,"l":"PLP-dependent"},{"r":6.82,"x":283,"l":"aminotransferase"},{"r":8.8,"x":296,"l":"N-acetyltransferase"},{"r":11.56,"x":289,"l":"B12 rSAM enzyme"},{"r":13.33,"x":289,"l":"Phe tRNA ligase"},{"r":30,"x":301,"l":"ATP-grasp protein"},{"r":32.19,"x":301,"l":"DMT transporter"},{"r":39.2,"x":292,"l":"hypothetical protein"},{"r":40.94,"x":293,"l":"tRNA binding protein"},{"r":45.63,"x":290,"l":"Class I tRNA ligase"},{"r":47.45,"x":291,"l":"MFS transporter"},{"r":48.8,"x":289,"l":"SidA/LucD/PvdA"},{"r":50.16,"x":294,"l":"monooxygenase"},{"r":51.6,"x":290,"l":"Cupin containing protein"},{"r":53.44,"x":290,"l":"FAD-dependent oxidoreductase"},{"r":55.2,"x":291,"l":"Ala racemase"},{"r":57.76,"x":291,"l":"Acireductone dioxygenase"},{"r":59.53,"x":289,"l":"MTR-1-P isomerase"},{"r":64.27,"x":291,"l":"Type I PKS"},{"r":66.1,"x":289,"l":"Nuclear transport family 2 protein"},{"r":67.76,"x":291,"l":"SDR oxydoreductase"},{"r":69.43,"x":291,"l":"Condensation protein"},{"r":71.04,"x":289,"l":"Monooxygenase"},{"r":75.57,"x":291,"l":"Acyl-coA dehydrogenase"},{"r":80.3,"x":290,"l":"Cytochrome P450"},{"r":82.03,"x":290,"l":"KAS III"},{"r":83.7,"x":290,"l":"ACP"},{"r":85.26,"x":290,"l":"MFS transporter"},{"r":86.93,"x":290,"l":"Epimerase"}
],
"clines":[
{"g":1,"x":625,"r":-0.6},{"g":1,"x":625,"r":8.6},{"g":2,"x":625,"r":10.1},{"g":2,"x":625,"r":38.3},{"g":3,"x":625,"r":44},{"g":3,"x":625,"r":65.6},{"g":4,"x":625,"r":66.7},{"g":4,"x":625,"r":87.8}
],
"clusters":[
{"x":653,"r":4,"l":"Cluster IV"},{"x":653,"r":26,"l":"Cluster III"},{"x":653,"r":55.8,"l":"Cluster II"},{"x":653,"r":78.6,"l":"Cluster I"}
]
},
"resolve":{"scale":{"x":"independent","fill":"independent"}},
"layer":[
{"data":{"name":"taxa"},"mark":{"type":"rule","stroke":"#dddddd","strokeWidth":0.7,"strokeDash":[7,13]},"encoding":{"y":{"field":"r","type":"quantitative","scale":{"domain":[-3.906,89.375],"reverse":true},"axis":null},"x":{"field":"d","type":"quantitative","scale":{"domain":[0,2400]},"axis":null},"x2":{"field":"tip"}}},
{"data":{"name":"taxa"},"mark":{"type":"rule","stroke":"#333333","strokeWidth":1.2},"encoding":{"y":{"field":"r","type":"quantitative","scale":{"domain":[-3.906,89.375],"reverse":true},"axis":null},"x":{"field":"n","type":"quantitative","scale":{"domain":[0,2400]},"axis":null},"x2":{"field":"tip"}}},
{"data":{"name":"hseg"},"mark":{"type":"rule","stroke":"#333333","strokeWidth":1.2},"encoding":{"y":{"field":"r","type":"quantitative","scale":{"domain":[-3.906,89.375],"reverse":true},"axis":null},"x":{"field":"x","type":"quantitative","scale":{"domain":[0,2400]},"axis":null},"x2":{"field":"x2"}}},
{"data":{"name":"vseg"},"mark":{"type":"line","stroke":"#333333","strokeWidth":1.2,"strokeCap":"square"},"encoding":{"y":{"field":"r","type":"quantitative","scale":{"domain":[-3.906,89.375],"reverse":true},"axis":null},"x":{"field":"x","type":"quantitative","scale":{"domain":[0,2400]},"axis":null},"detail":{"field":"g","type":"nominal"}}},
{"data":{"values":[{"r":-3,"l":"Tree scale: 1"}]},"mark":{"type":"text","font":"Liberation Sans","align":"left","baseline":"middle","fontSize":12,"fontWeight":"bold","fill":"#5a5a5a"},"encoding":{"y":{"field":"r","type":"quantitative","scale":{"domain":[-3.906,89.375],"reverse":true},"axis":null},"x":{"datum":25,"type":"quantitative","scale":{"domain":[0,2400]},"axis":null},"text":{"field":"l"}}},
{"data":{"name":"taxa"},"mark":{"type":"text","font":"Liberation Sans","align":"left","baseline":"middle","fontSize":5.5,"fill":"#333333"},"encoding":{"y":{"field":"r","type":"quantitative","scale":{"domain":[-3.906,89.375],"reverse":true},"axis":null},"x":{"datum":524,"type":"quantitative","scale":{"domain":[0,2400]},"axis":null},"text":{"field":"id"}}},
{"data":{"name":"bolds"},"mark":{"type":"text","font":"Liberation Sans","align":"left","baseline":"middle","fontSize":5.5,"fontWeight":"bold","fill":"#111111"},"encoding":{"y":{"field":"r","type":"quantitative","scale":{"domain":[-3.906,89.375],"reverse":true},"axis":null},"x":{"field":"ax","type":"quantitative","scale":{"domain":[0,2400]},"axis":null},"text":{"field":"id"}}},
{"data":{"name":"taxa"},"mark":{"type":"rect","width":7.3,"height":6.5},"encoding":{"y":{"field":"r","type":"quantitative","scale":{"domain":[-3.906,89.375],"reverse":true},"axis":null},"x":{"datum":664,"type":"quantitative","scale":{"domain":[0,2400]},"axis":null},"fill":{"field":"tax","type":"nominal","scale":{"domain":["Archaeal DPANN","Pseudomonadota","Cyanobacteria","Myxococcota","Caldisericota","Archaeal TACK group","Bacteroidota","Planctomycetota","Patescibacteria (CPR)","Acidobacteriota","Actinomycetota","Nitrospirota","Other"],"range":["#8FDDC6","#82B6D6","#C8EBB8","#B0E464","#F0F062","#F5F9A8","#EFAE60","#B870C4","#F27B74","#BDB8DE","#7F4310","#F5C6E4","#D0D0D0"]},"legend":{"orient":"none","legendX":1,"legendY":428.7,"title":null,"symbolType":"square","symbolSize":64,"symbolStrokeColor":"#333333","symbolStrokeWidth":1,"labelFontSize":9,"labelFont":"Liberation Sans","labelColor":"#333333","labelOffset":4,"rowPadding":0,"clipHeight":12}}}},
{"data":{"name":"taxa"},"mark":{"type":"text","font":"Liberation Sans","align":"left","baseline":"middle","fontSize":5.5,"fill":"#333333"},"encoding":{"y":{"field":"r","type":"quantitative","scale":{"domain":[-3.906,89.375],"reverse":true},"axis":null},"x":{"datum":678,"type":"quantitative","scale":{"domain":[0,2400]},"axis":null},"text":{"field":"org"}}},
{"data":{"name":"bb"},"mark":{"type":"rule","stroke":"#888888","strokeWidth":0.6,"strokeDash":[1,2]},"encoding":{"y":{"field":"r","type":"quantitative","scale":{"domain":[-3.906,89.375],"reverse":true},"axis":null},"x":{"field":"le","type":"quantitative","scale":{"domain":[-1732,668]},"axis":null},"x2":{"field":"a"}}},
{"data":{"name":"bb"},"mark":{"type":"rule","stroke":"#222222","strokeWidth":0.7},"encoding":{"y":{"field":"r","type":"quantitative","scale":{"domain":[-3.906,89.375],"reverse":true},"axis":null},"x":{"field":"a","type":"quantitative","scale":{"domain":[-1732,668]},"axis":null},"x2":{"field":"b"}}},
{"data":{"name":"genes"},"mark":{"type":"bar","size":5,"orient":"horizontal","x2Offset":-3,"stroke":"#333333","strokeWidth":0.6},"encoding":{"y":{"field":"r","type":"quantitative","scale":{"domain":[-3.906,89.375],"reverse":true},"axis":null},"fill":{"field":"t","type":"nominal","legend":null,"scale":{"domain":["A","O","N","P","T","B","F","G","D","H","R","C","M","S","U","X","L","I","Y","K","W","E","Z","V","Q","J","3","a","e"],"range":["#F26B6B","#D0D0D0","#7F4310","#55C8D4","#CFFF2E","#8A8AF5","#4DB4F5","#3CF03C","#2A1AF0","#85108C","#8AAE1A","#DD72F0","#A8AE22","#FF55F0","#6FF5F5","#F07A40","#BBA520","#10108C","#44D488","#B01212","#FF69B4","#FF1A1A","#CC9420","#FF22F0","#8C6A6A","#6CC020","#F5F530","#48C8B8","#B87AF0"]}},"x":{"field":"s","type":"quantitative","scale":{"domain":[-1732,668]},"axis":{"values":[-313,0,313],"labelExpr":"datum.value<0?'-12.5k':datum.value>0?'12.5k':''","domain":false,"grid":false,"title":null,"offset":-10,"tickSize":2,"tickColor":"#333333","labelFontSize":5.5,"labelFont":"Liberation Sans","labelColor":"#333333","labelPadding":1}},"x2":{"field":"e"}}},
{"data":{"name":"genes"},"mark":{"type":"point","filled":true,"opacity":1,"shape":"triangle-right","xOffset":-2.4,"size":30,"stroke":"#333333","strokeWidth":0.6},"encoding":{"y":{"field":"r","type":"quantitative","scale":{"domain":[-3.906,89.375],"reverse":true},"axis":null},"fill":{"field":"t","type":"nominal","legend":null,"scale":{"domain":["A","O","N","P","T","B","F","G","D","H","R","C","M","S","U","X","L","I","Y","K","W","E","Z","V","Q","J","3","a","e"],"range":["#F26B6B","#D0D0D0","#7F4310","#55C8D4","#CFFF2E","#8A8AF5","#4DB4F5","#3CF03C","#2A1AF0","#85108C","#8AAE1A","#DD72F0","#A8AE22","#FF55F0","#6FF5F5","#F07A40","#BBA520","#10108C","#44D488","#B01212","#FF69B4","#FF1A1A","#CC9420","#FF22F0","#8C6A6A","#6CC020","#F5F530","#48C8B8","#B87AF0"]}},"x":{"field":"e","type":"quantitative","scale":{"domain":[-1732,668]},"axis":null}}},
{"data":{"name":"lkeys"},"mark":{"type":"bar","size":8.4,"orient":"horizontal","x2Offset":-5,"stroke":"#333333","strokeWidth":0.8},"encoding":{"y":{"field":"r","type":"quantitative","scale":{"domain":[-3.906,89.375],"reverse":true},"axis":null},"fill":{"field":"t","type":"nominal","legend":null,"scale":{"domain":["A","O","N","P","T","B","F","G","D","H","R","C","M","S","U","X","L","I","Y","K","W","E","Z","V","Q","J","3","a","e"],"range":["#F26B6B","#D0D0D0","#7F4310","#55C8D4","#CFFF2E","#8A8AF5","#4DB4F5","#3CF03C","#2A1AF0","#85108C","#8AAE1A","#DD72F0","#A8AE22","#FF55F0","#6FF5F5","#F07A40","#BBA520","#10108C","#44D488","#B01212","#FF69B4","#FF1A1A","#CC9420","#FF22F0","#8C6A6A","#6CC020","#F5F530","#48C8B8","#B87AF0"]}},"x":{"field":"s","type":"quantitative","scale":{"domain":[-1732,668]},"axis":null},"x2":{"field":"e"}}},
{"data":{"name":"lkeys"},"mark":{"type":"point","filled":true,"opacity":1,"shape":"triangle-right","xOffset":-3.6,"size":71,"stroke":"#333333","strokeWidth":0.8},"encoding":{"y":{"field":"r","type":"quantitative","scale":{"domain":[-3.906,89.375],"reverse":true},"axis":null},"fill":{"field":"t","type":"nominal","legend":null,"scale":{"domain":["A","O","N","P","T","B","F","G","D","H","R","C","M","S","U","X","L","I","Y","K","W","E","Z","V","Q","J","3","a","e"],"range":["#F26B6B","#D0D0D0","#7F4310","#55C8D4","#CFFF2E","#8A8AF5","#4DB4F5","#3CF03C","#2A1AF0","#85108C","#8AAE1A","#DD72F0","#A8AE22","#FF55F0","#6FF5F5","#F07A40","#BBA520","#10108C","#44D488","#B01212","#FF69B4","#FF1A1A","#CC9420","#FF22F0","#8C6A6A","#6CC020","#F5F530","#48C8B8","#B87AF0"]}},"x":{"field":"e","type":"quantitative","scale":{"domain":[-1732,668]},"axis":null}}},
{"data":{"name":"ltext"},"mark":{"type":"text","font":"Liberation Sans","align":"left","baseline":"middle","fontSize":7.4,"fill":"#444444"},"encoding":{"y":{"field":"r","type":"quantitative","scale":{"domain":[-3.906,89.375],"reverse":true},"axis":null},"x":{"field":"x","type":"quantitative","scale":{"domain":[-1732,668]},"axis":null},"text":{"field":"l"}}},
{"data":{"values":[{"r":-0.05,"x":291,"l":"AzeJ/VioH"}]},"mark":{"type":"text","font":"Liberation Sans","align":"left","baseline":"middle","fontSize":7.4,"fontWeight":"bold","fill":"#222222"},"encoding":{"y":{"field":"r","type":"quantitative","scale":{"domain":[-3.906,89.375],"reverse":true},"axis":null},"x":{"field":"x","type":"quantitative","scale":{"domain":[-1732,668]},"axis":null},"text":{"field":"l"}}},
{"data":{"name":"bolds"},"mark":{"type":"text","font":"Liberation Sans","align":"left","baseline":"middle","fontSize":5.5,"fontWeight":"bold","fill":"#111111"},"encoding":{"y":{"field":"r","type":"quantitative","scale":{"domain":[-3.906,89.375],"reverse":true},"axis":null},"x":{"field":"ox","type":"quantitative","scale":{"domain":[-1732,668]},"axis":null},"text":{"field":"org"}}},
{"data":{"name":"clines"},"mark":{"type":"line","stroke":"#222222","strokeWidth":1},"encoding":{"y":{"field":"r","type":"quantitative","scale":{"domain":[-3.906,89.375],"reverse":true},"axis":null},"x":{"field":"x","type":"quantitative","scale":{"domain":[-1732,668]},"axis":null},"detail":{"field":"g","type":"nominal"}}},
{"data":{"name":"clusters"},"mark":{"type":"text","angle":90,"align":"center","baseline":"middle","font":"Liberation Mono","fontWeight":"bold","fontSize":9.5,"fill":"#222222"},"encoding":{"y":{"field":"r","type":"quantitative","scale":{"domain":[-3.906,89.375],"reverse":true},"axis":null},"x":{"field":"x","type":"quantitative","scale":{"domain":[-1732,668]},"axis":null},"text":{"field":"l"}}},
{"data":{"values":[{"a":-622,"b":551,"r":87.97}]},"mark":{"type":"rule","stroke":"#555555","strokeWidth":1},"encoding":{"y":{"field":"r","type":"quantitative","scale":{"domain":[-3.906,89.375],"reverse":true},"axis":null},"x":{"field":"a","type":"quantitative","scale":{"domain":[-1732,668]},"axis":null},"x2":{"field":"b"}}}
]}
